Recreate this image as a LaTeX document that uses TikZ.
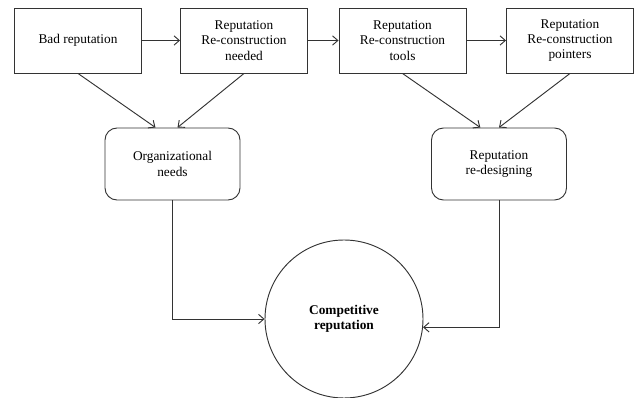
\documentclass[tikz,border=0pt]{standalone}
\usepackage{fontspec}
\setmainfont{Liberation Serif}
\usetikzlibrary{shapes,arrows.meta}

\begin{document}
\begin{tikzpicture}[x=0.75pt,y=-0.75pt,line width=0.7pt,draw=black!80,
    >={Straight Barb[length=4pt,width=7pt]},
    stagebox/.style={draw,rectangle,minimum width=95.25pt,minimum height=48.75pt,
        align=center,font=\fontsize{10}{11.5}\selectfont},
    needbox/.style={draw,rectangle,rounded corners=9pt,minimum width=101.25pt,
        minimum height=54pt,align=center,font=\fontsize{10}{11.5}\selectfont},
    goal/.style={draw,circle,minimum size=118.5pt,inner sep=0pt,align=center,
        font=\fontsize{10}{11.5}\selectfont\bfseries}]
    \useasboundingbox (0,0) rectangle (636,398);
    % top row
    \node [stagebox] (Bad)      at (78,40.5)    {Bad reputation};
    \node [stagebox] (Needed)   at (244,40.5)   {Reputation\\Re-construction\\needed};
    \node [stagebox] (Tools)    at (402.5,40.5) {Reputation\\Re-construction\\tools};
    \node [stagebox] (Pointers) at (570,40.5)   {Reputation\\Re-construction\\pointers};
    % middle row
    \node [needbox] (OrgNeeds) at (172.5,164) {Organizational\\needs};
    \node [needbox] (Redesign) at (499,164)   {Reputation\\re-designing};
    % result
    \node [goal] (Competitive) at (344,319) {Competitive\\reputation};
    \draw [->] (Bad) -- (Needed);% arrows along the top row
    \draw [->] (Needed) -- (Tools);
    \draw [->] (Tools) -- (Pointers);
    \draw [->] (Bad.south) -- ([xshift=-12.75pt]OrgNeeds.north);
    \draw [->] (Needed.south) -- ([xshift=3.75pt]OrgNeeds.north);
    \draw [->] (Tools.south) -- ([xshift=-14pt]Redesign.north);
    \draw [->] (Pointers.south) -- ([xshift=0pt]Redesign.north);
    \draw [->] (OrgNeeds.south) |- (Competitive.west);
    \draw [->] (Redesign.south) |- (Competitive.-6.5);
\end{tikzpicture}
\end{document}
